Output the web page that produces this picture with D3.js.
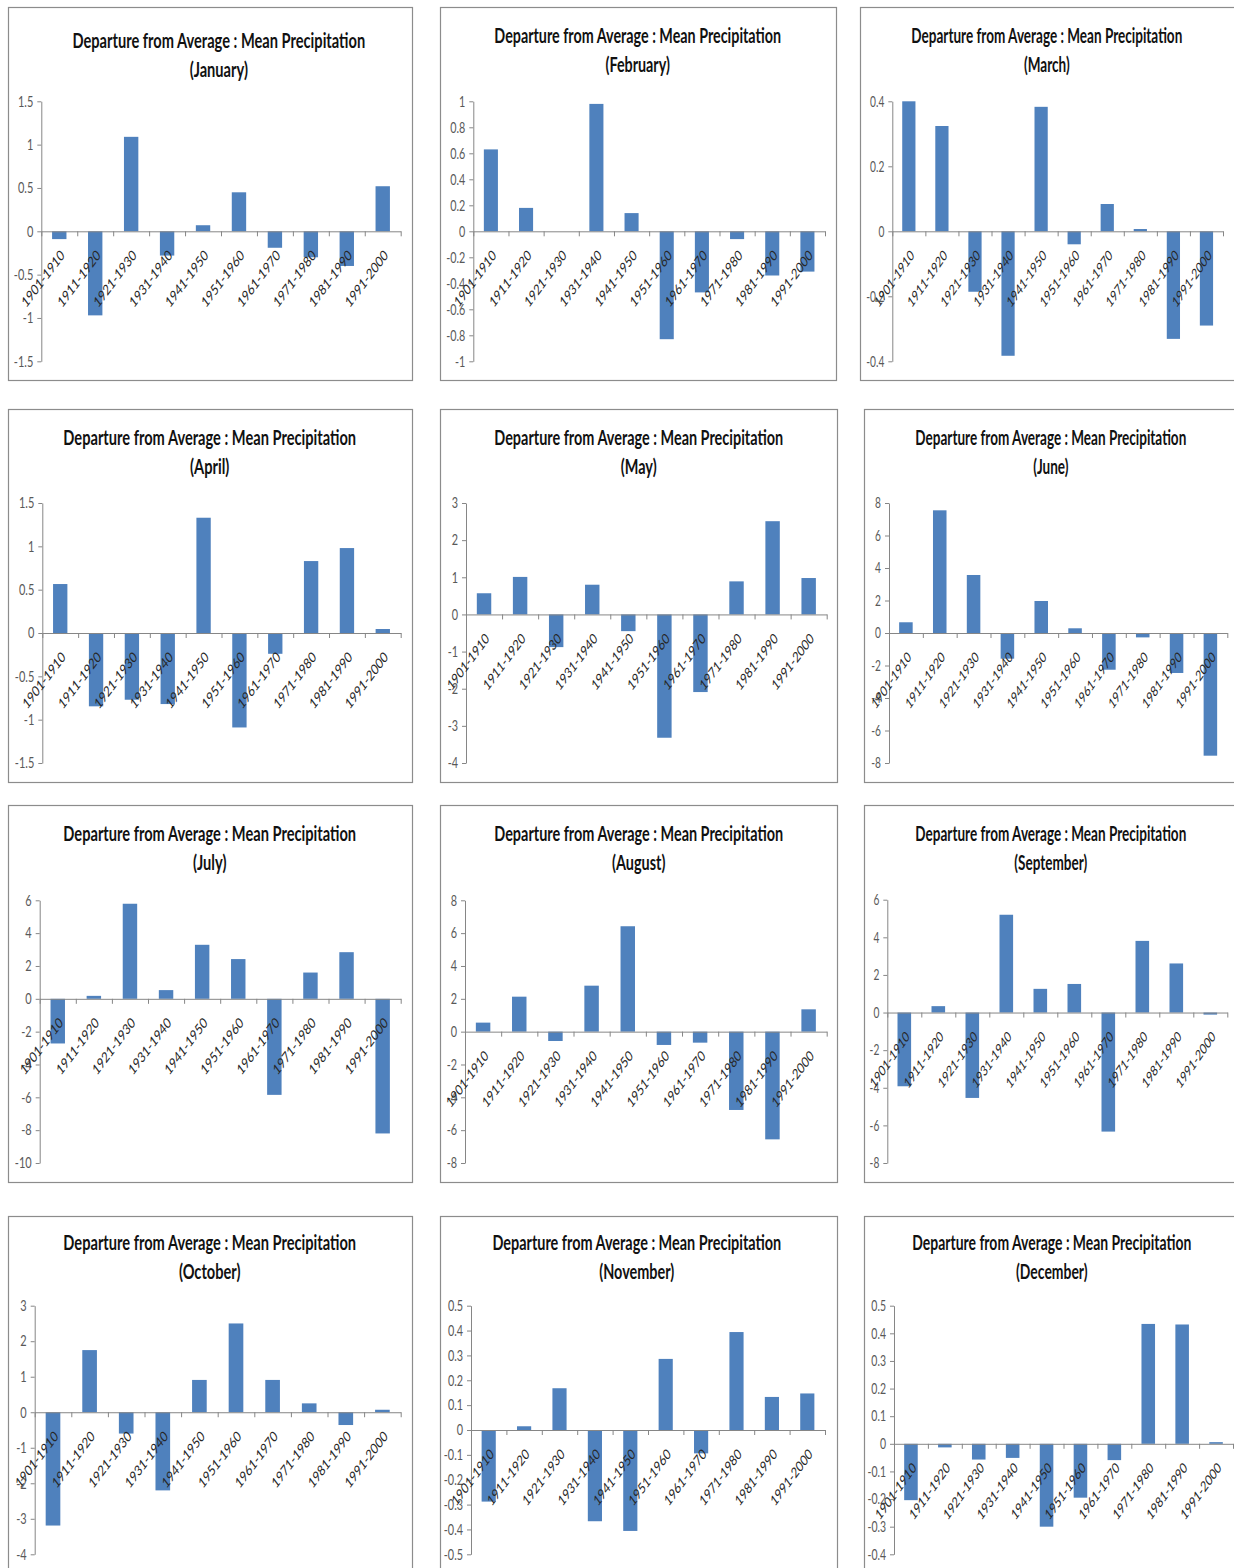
<!DOCTYPE html>
<html>
<head>
<meta charset="utf-8">
<script src="https://cdn.jsdelivr.net/npm/d3@7"></script>
<style>
  body { margin: 0; background: #fff; }
  svg { display: block; }
</style>
</head>
<body>
<svg id="chart" width="1234" height="1568"></svg>
<script>
// decades on the category axis
const decades = ["1901-1910", "1911-1920", "1921-1930", "1931-1940", "1941-1950",
                 "1951-1960", "1961-1970", "1971-1980", "1981-1990", "1991-2000"];
const months = ["January", "February", "March", "April", "May", "June",
                "July", "August", "September", "October", "November", "December"];

// departure from average, one value per decade
const janValues = [-0.09, -0.97, 1.09, -0.28, 0.07, 0.45, -0.19, -0.30, -0.40, 0.52];
const febValues = [0.63, 0.18, 0, 0.98, 0.14, -0.83, -0.47, -0.06, -0.34, -0.31];
const marValues = [0.40, 0.324, -0.186, -0.383, 0.383, -0.04, 0.084, 0.007, -0.331, -0.29];
const aprValues = [0.565, -0.846, -0.77, -0.82, 1.33, -1.09, -0.24, 0.83, 0.98, 0.046];
const mayValues = [0.57, 1.01, -0.88, 0.80, -0.45, -3.32, -2.09, 0.89, 2.51, 0.98];
const junValues = [0.66, 7.55, 3.57, -1.58, 1.97, 0.29, -2.26, -0.27, -2.46, -7.55];
const julValues = [-2.72, 0.18, 5.79, 0.53, 3.29, 2.42, -5.85, 1.60, 2.84, -8.2];
const augValues = [0.55, 2.13, -0.57, 2.80, 6.42, -0.81, -0.67, -4.77, -6.56, 1.36];
const sepValues = [-3.92, 0.34, -4.54, 5.2, 1.26, 1.52, -6.33, 3.81, 2.61, -0.11];
const octValues = [-3.19, 1.75, -0.60, -2.20, 0.91, 2.50, 0.91, 0.25, -0.36, 0.07];
const novValues = [-0.288, 0.015, 0.168, -0.367, -0.406, 0.286, -0.094, 0.394, 0.133, 0.147];
const decValues = [-0.204, -0.013, -0.057, -0.051, -0.30, -0.195, -0.059, 0.434, 0.432, 0.006];

// value axis tick labels
const janTicks = [-1.5, -1, -0.5, 0, 0.5, 1, 1.5];
const febTicks = [-1, -0.8, -0.6, -0.4, -0.2, 0, 0.2, 0.4, 0.6, 0.8, 1];
const marTicks = [-0.4, -0.2, 0, 0.2, 0.4];
const aprTicks = [-1.5, -1, -0.5, 0, 0.5, 1, 1.5];
const mayTicks = [-4, -3, -2, -1, 0, 1, 2, 3];
const junTicks = [-8, -6, -4, -2, 0, 2, 4, 6, 8];
const julTicks = [-10, -8, -6, -4, -2, 0, 2, 4, 6];
const augTicks = [-8, -6, -4, -2, 0, 2, 4, 6, 8];
const sepTicks = [-8, -6, -4, -2, 0, 2, 4, 6];
const octTicks = [-4, -3, -2, -1, 0, 1, 2, 3];
const novTicks = [-0.5, -0.4, -0.3, -0.2, -0.1, 0, 0.1, 0.2, 0.3, 0.4, 0.5];
const decTicks = [-0.4, -0.3, -0.2, -0.1, 0, 0.1, 0.2, 0.3, 0.4, 0.5];

const allValues = [janValues, febValues, marValues, aprValues, mayValues, junValues,
                   julValues, augValues, sepValues, octValues, novValues, decValues];
const allTicks = [janTicks, febTicks, marTicks, aprTicks, mayTicks, junTicks,
                  julTicks, augTicks, sepTicks, octTicks, novTicks, decTicks];

// layout of each small chart: frame box, plot area (axis x, top, bottom, right), title
const panels = [
  { frame: [8, 7, 412, 380],      ax: 41.3,  yt: 101.3,  yb: 361.3,  xr: 400.7,  tcx: 218.8,  tby: 47.7,   tw: 293 },
  { frame: [440, 7, 836, 380],    ax: 473.3, yt: 101.3,  yb: 361.3,  xr: 825,    tcx: 637.7,  tby: 43,     tw: 287 },
  { frame: [860, 7, 1240, 380],   ax: 892.3, yt: 101.3,  yb: 361.3,  xr: 1223,   tcx: 1046.8, tby: 43,     tw: 271 },
  { frame: [8, 409, 412, 782],    ax: 42.3,  yt: 503,    yb: 763,    xr: 400.7,  tcx: 209.7,  tby: 444.7,  tw: 293 },
  { frame: [440, 409, 837, 782],  ax: 466,   yt: 503,    yb: 763,    xr: 826.7,  tcx: 638.7,  tby: 444.7,  tw: 289 },
  { frame: [864, 409, 1240, 782], ax: 889,   yt: 503,    yb: 763,    xr: 1227.3, tcx: 1050.8, tby: 444.7,  tw: 271 },
  { frame: [8, 805, 412, 1182],   ax: 39.7,  yt: 900.3,  yb: 1163,   xr: 400.7,  tcx: 209.7,  tby: 841.3,  tw: 293 },
  { frame: [440, 805, 837, 1182], ax: 465,   yt: 900.3,  yb: 1163,   xr: 826.7,  tcx: 638.7,  tby: 841.3,  tw: 289 },
  { frame: [864, 805, 1240, 1182],ax: 887.3, yt: 899.7,  yb: 1163,   xr: 1227.3, tcx: 1050.8, tby: 841.3,  tw: 271 },
  { frame: [8, 1216, 412, 1590],  ax: 34.7,  yt: 1305.7, yb: 1554.3, xr: 400.7,  tcx: 209.7,  tby: 1250,   tw: 293 },
  { frame: [440, 1216, 837, 1590],ax: 471,   yt: 1305.7, yb: 1554.3, xr: 825,    tcx: 636.8,  tby: 1250,   tw: 289 },
  { frame: [864, 1216, 1240, 1590],ax: 894,  yt: 1305.7, yb: 1554.3, xr: 1233,   tcx: 1051.8, tby: 1250,   tw: 279 }
];

const SY = 1.33;           // the picture is stretched vertically
const barColor = "#4F81BD";
const axisColor = "#868686";
const font = "Lato, 'Open Sans', sans-serif";

const svg = d3.select("#chart");

panels.forEach((p, i) => {
  const values = allValues[i];
  const ticks = allTicks[i];
  const sx = p.tw / 293;
  const g = svg.append("g");

  g.append("rect")
    .attr("x", p.frame[0] + 0.5).attr("y", p.frame[1] + 0.5)
    .attr("width", p.frame[2] - p.frame[0]).attr("height", p.frame[3] - p.frame[1])
    .attr("fill", "#fff").attr("stroke", "#8c8c8c").attr("stroke-width", 1.2);

  // title
  const title = g.append("g").attr("font-family", font).attr("font-weight", "bold")
    .attr("font-size", 15).attr("fill", "#111").attr("text-anchor", "middle");
  const t1 = title.append("text").text("Departure from Average : Mean Precipitation");
  title.append("text").attr("y", 29 / SY).text("(" + months[i] + ")");
  const natural = t1.node().getComputedTextLength();
  title.attr("transform", `translate(${p.tcx},${p.tby}) scale(${p.tw / natural},${SY})`);

  const y = d3.scaleLinear().domain(d3.extent(ticks)).range([p.yb, p.yt]);
  const x = d3.scaleBand().domain(decades).range([p.ax, p.xr])
    .paddingInner(0.6).paddingOuter(0.3);
  const xb = d3.scaleLinear().domain([0, decades.length]).range([p.ax, p.xr]);

  // bars
  g.append("g").selectAll("rect")
    .data(values)
    .join("rect")
    .attr("x", (d, k) => x(decades[k]))
    .attr("width", x.bandwidth())
    .attr("y", d => y(Math.max(0, d)))
    .attr("height", d => Math.abs(y(d) - y(0)))
    .attr("fill", barColor);

  // value axis
  const yAxis = g.append("g")
    .attr("transform", `translate(${p.ax},0)`)
    .call(d3.axisLeft(y).tickValues(ticks).tickSize(4).tickSizeOuter(0).tickFormat(""));
  yAxis.select(".domain").attr("stroke", axisColor);
  yAxis.selectAll(".tick line").attr("stroke", axisColor);

  g.append("g").selectAll("text")
    .data(ticks)
    .join("text")
    .attr("transform", t => `translate(${p.ax - 8},${y(t)}) scale(${sx},${SY})`)
    .attr("text-anchor", "end")
    .attr("dy", "0.36em")
    .attr("font-family", font)
    .attr("font-size", 11)
    .attr("fill", "#595959")
    .text(t => String(t));

  // category axis along zero
  const xAxis = g.append("g")
    .attr("transform", `translate(0,${y(0)})`)
    .call(d3.axisBottom(xb).tickValues(d3.range(decades.length + 1)).tickSize(5)
      .tickSizeOuter(0).tickFormat(""));
  xAxis.select(".domain").attr("stroke", axisColor);
  xAxis.selectAll(".tick line").attr("stroke", axisColor);

  g.append("g").selectAll("text")
    .data(decades)
    .join("text")
    .attr("transform", d =>
      `translate(${x(d) + x.bandwidth() / 2 + 6},${y(0) + 25}) scale(${sx},${SY}) rotate(-45)`)
    .attr("text-anchor", "end")
    .attr("font-family", font)
    .attr("font-size", 11)
    .attr("fill", "#262626")
    .text(d => d);
});
</script>
</body>
</html>
